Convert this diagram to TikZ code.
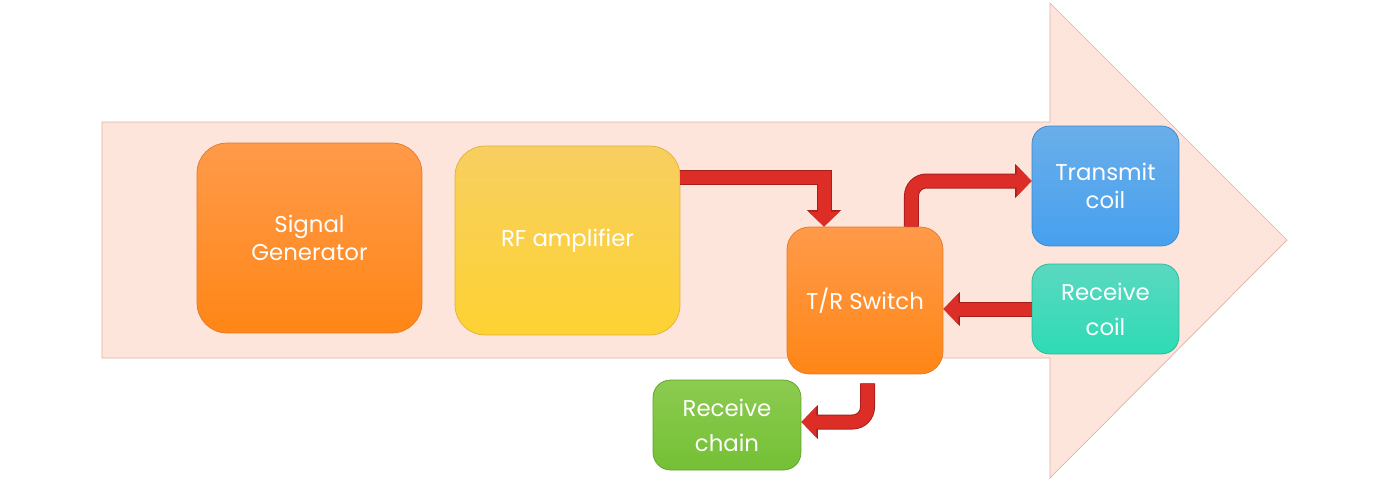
\documentclass[tikz,border=0pt]{standalone}
\usepackage{fontspec}
\setmainfont{Poppins}
\usetikzlibrary{arrows.meta}

\definecolor{bgfill}{HTML}{FDE5DB}
\definecolor{bgline}{HTML}{DDB3A6}
\definecolor{redfill}{HTML}{DC2E26}
\definecolor{redline}{HTML}{A71F1A}

\tikzset{
  block/.style={draw, rounded corners=0.6cm, inner sep=0pt, align=center,
    text=white, font=\fontsize{13}{16}\selectfont},
  smallblock/.style={block, rounded corners=0.35cm},
  flowedge/.style={line width=0.30cm, draw=redline, -{Triangle[length=0.33cm,width=0.66cm]}},
  flowfill/.style={line width=0.26cm, draw=redfill, -{Triangle[length=0.30cm,width=0.59cm]}},
}

\begin{document}
\begin{tikzpicture}[x=0.02cm, y=-0.02cm]
      \useasboundingbox (0,0) rectangle (1394,481);
      \filldraw[fill=bgfill, draw=bgline, line width=0.4pt]
        (102,122) -- (1050,122) -- (1050,3) -- (1287,240) -- (1050,478)
        -- (1050,358) -- (102,358) -- cycle;

      \node[block, minimum width=4.5cm, minimum height=3.8cm,
        top color={rgb,255:red,255;green,154;blue,74},
        bottom color={rgb,255:red,255;green,134;blue,22}, draw={rgb,255:red,226;green,122;blue,40}]
        (siggen) at (309.5,238) {Signal\\Generator};
      \node[block, minimum width=4.5cm, minimum height=3.78cm,
        top color={rgb,255:red,248;green,207;blue,96},
        bottom color={rgb,255:red,253;green,210;blue,51}, draw={rgb,255:red,222;green,178;blue,60}]
        (rfamp) at (567.5,240.5) {RF amplifier};
      \node[block, rounded corners=0.45cm, minimum width=3.12cm, minimum height=2.94cm,
        top color={rgb,255:red,255;green,154;blue,74},
        bottom color={rgb,255:red,255;green,134;blue,22}, draw={rgb,255:red,226;green,122;blue,40}]
        (trsw) at (865,300.5) {T/R Switch};
      \node[smallblock, minimum width=2.94cm, minimum height=2.4cm,
        top color={rgb,255:red,106;green,174;blue,234},
        bottom color={rgb,255:red,71;green,160;blue,238}, draw={rgb,255:red,58;green,134;blue,200}]
        (txcoil) at (1105.5,186) {Transmit\\coil};
      \node[smallblock, minimum width=2.94cm, minimum height=1.8cm,
        top color={rgb,255:red,90;green,216;blue,192},
        bottom color={rgb,255:red,46;green,219;blue,181}, draw={rgb,255:red,40;green,182;blue,152}]
        (rxcoil) at (1105.5,309) {Receive\\[4pt]coil};
      \node[smallblock, minimum width=2.96cm, minimum height=1.8cm,
        top color={rgb,255:red,140;green,203;blue,80},
        bottom color={rgb,255:red,116;green,192;blue,53}, draw={rgb,255:red,95;green,160;blue,42}]
        (rxchain) at (727,425) {Receive\\[4pt]chain};

      \foreach \s in {flowedge, flowfill} {
        \draw[\s] ([yshift=1.27cm]rfamp.east) -| ([xshift=-0.82cm]trsw.north);
        \draw[\s, rounded corners=0.3cm] ([xshift=0.93cm]trsw.north) |- ([yshift=0.1cm]txcoil.west);
        \draw[\s] (rxcoil.west) -- (rxcoil.west -| trsw.east);
        \draw[\s, rounded corners=0.3cm] ([xshift=0.05cm, yshift=-0.18cm]trsw.south) |- ([yshift=0.06cm]rxchain.east);
      }
\end{tikzpicture}
\end{document}
